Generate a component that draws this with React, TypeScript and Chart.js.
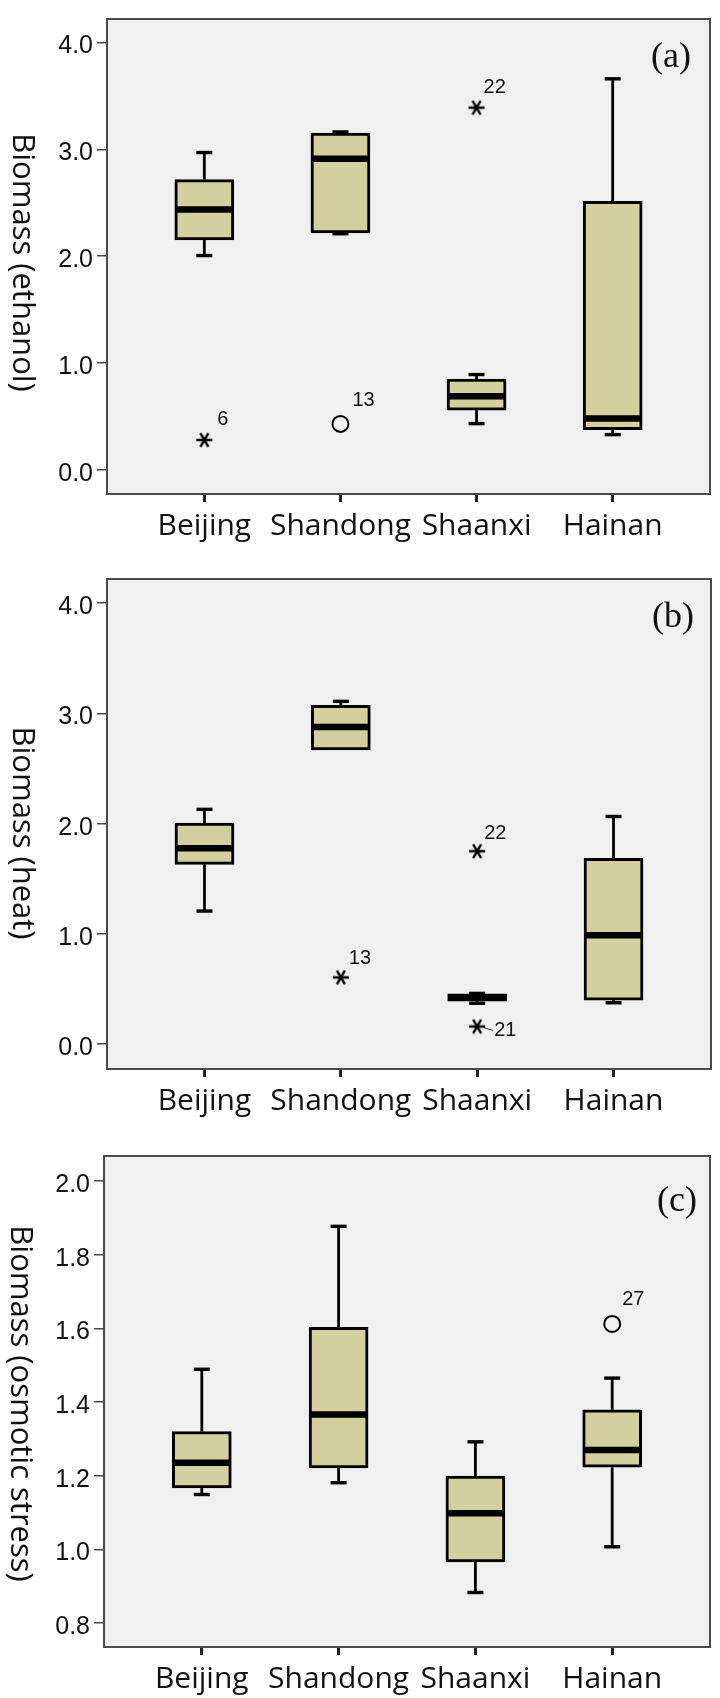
import React, { useEffect, useRef } from 'react';
import { Chart, registerables } from 'chart.js';

Chart.register(...registerables);

// ---------- shared data ----------
const categories = ['Beijing', 'Shandong', 'Shaanxi', 'Hainan'];
const categoryPositions = [0, 1, 2, 3];
const xRange = [-0.715, 3.715];

// ---------- (a) ethanol ----------
const ethanolWhiskerLow = [2.006, 2.21, 0.433, 0.33];
const ethanolQ1 = [2.152, 2.217, 0.559, 0.375];
const ethanolMedian = [2.436, 2.911, 0.688, 0.481];
const ethanolQ3 = [2.717, 3.153, 0.85, 2.514];
const ethanolWhiskerHigh = [2.97, 3.163, 0.892, 3.66];
const ethanolOutlierCategory = [0, 1, 2];
const ethanolOutlierValue = [0.28, 0.43, 3.39];
const ethanolOutlierMarker = ['star', 'circle', 'star'];
const ethanolOutlierLabel = ['6', '13', '22'];
const ethanolTicks = [0, 1, 2, 3, 4];
const ethanolRange = [-0.226, 4.22];

// ---------- (b) heat ----------
const heatWhiskerLow = [1.207, 2.67, 0.37, 0.375];
const heatQ1 = [1.631, 2.67, 0.39, 0.398];
const heatMedian = [1.777, 2.877, 0.42, 0.987];
const heatQ3 = [2.006, 3.074, 0.455, 1.686];
const heatWhiskerHigh = [2.13, 3.11, 0.46, 2.065];
const heatOutlierCategory = [1, 2, 2];
const heatOutlierValue = [0.605, 1.75, 0.16];
const heatOutlierMarker = ['star', 'star', 'star'];
const heatOutlierLabel = ['13', '22', '21'];
const heatTicks = [0, 1, 2, 3, 4];
const heatRange = [-0.226, 4.22];

// ---------- (c) osmotic stress ----------
const osmoticWhiskerLow = [1.149, 1.181, 0.883, 1.007];
const osmoticQ1 = [1.167, 1.221, 0.966, 1.223];
const osmoticMedian = [1.235, 1.366, 1.098, 1.27];
const osmoticQ3 = [1.32, 1.603, 1.199, 1.379];
const osmoticWhiskerHigh = [1.489, 1.877, 1.292, 1.465];
const osmoticOutlierCategory = [3];
const osmoticOutlierValue = [1.612];
const osmoticOutlierMarker = ['circle'];
const osmoticOutlierLabel = ['27'];
const osmoticTicks = [0.8, 1.0, 1.2, 1.4, 1.6, 1.8, 2.0];
const osmoticRange = [0.735, 2.068];

// ---------- styles ----------
const BOX_FILL = '#D4CF9E';
const PLOT_BG = '#F0F0F0';
const FRAME = '#4a4a4a';
const SANS = '"Open Sans", "Noto Sans", sans-serif';
const TICK_FONT = '"Liberation Sans", Arial, sans-serif';

type Panel = {
  key: string;
  letter: string;
  title: string;
  low: number[]; q1: number[]; median: number[]; q3: number[]; high: number[];
  outCat: number[]; outVal: number[]; outMarker: string[]; outLabel: string[];
  ticks: number[]; range: number[];
  // layout / style
  top: number; height: number; padTop: number; padRight: number;
  yAxisWidth: number; xAxisHeight: number;
  titleX: number; titleDy: number;
  letterDx: number; letterDy: number;
  labelOffsets: number[][];
  leader: boolean[];
};

const panels: Panel[] = [
  {
    key: 'a', letter: '(a)', title: 'Biomass (ethanol)',
    low: ethanolWhiskerLow, q1: ethanolQ1, median: ethanolMedian, q3: ethanolQ3, high: ethanolWhiskerHigh,
    outCat: ethanolOutlierCategory, outVal: ethanolOutlierValue, outMarker: ethanolOutlierMarker, outLabel: ethanolOutlierLabel,
    ticks: ethanolTicks, range: ethanolRange,
    top: 0, height: 560, padTop: 3.5, padRight: 8, yAxisWidth: 107, xAxisHeight: 66,
    titleX: 22, titleDy: 6, letterDx: -39, letterDy: 39,
    labelOffsets: [[13, -20], [12, -23], [7, -20]],
    leader: [false, false, false],
  },
  {
    key: 'b', letter: '(b)', title: 'Biomass (heat)',
    low: heatWhiskerLow, q1: heatQ1, median: heatMedian, q3: heatQ3, high: heatWhiskerHigh,
    outCat: heatOutlierCategory, outVal: heatOutlierValue, outMarker: heatOutlierMarker, outLabel: heatOutlierLabel,
    ticks: heatTicks, range: heatRange,
    top: 560, height: 570, padTop: 18, padRight: 8, yAxisWidth: 107, xAxisHeight: 61,
    titleX: 22, titleDy: 9, letterDx: -38, letterDy: 39,
    labelOffsets: [[8, -19], [7, -18], [17, 4]],
    leader: [false, false, true],
  },
  {
    key: 'c', letter: '(c)', title: 'Biomass (osmotic stress)',
    low: osmoticWhiskerLow, q1: osmoticQ1, median: osmoticMedian, q3: osmoticQ3, high: osmoticWhiskerHigh,
    outCat: osmoticOutlierCategory, outVal: osmoticOutlierValue, outMarker: osmoticOutlierMarker, outLabel: osmoticOutlierLabel,
    ticks: osmoticTicks, range: osmoticRange,
    top: 1130, height: 568, padTop: 26, padRight: 9, yAxisWidth: 104, xAxisHeight: 51,
    titleX: 20, titleDy: 2, letterDx: -33, letterDy: 46,
    labelOffsets: [[10, -24]],
    leader: [false],
  },
];

function makeStar(size: number, lw: number): HTMLCanvasElement {
  const c = document.createElement('canvas');
  c.width = size; c.height = size;
  const g = c.getContext('2d')!;
  g.strokeStyle = '#000';
  g.lineWidth = lw;
  const m = size / 2;
  const r = size / 2 - 1;
  const angles = [0, Math.PI / 3, (2 * Math.PI) / 3];
  g.beginPath();
  for (const a of angles) {
    g.moveTo(m - r * Math.cos(a), m - r * Math.sin(a));
    g.lineTo(m + r * Math.cos(a), m + r * Math.sin(a));
  }
  g.stroke();
  return c;
}

const BOX_WIDTH = 59;

function extrasPlugin(p: Panel) {
  return {
    id: 'boxExtras',
    beforeDraw(chart: any) {
      const { ctx, chartArea: a } = chart;
      ctx.save();
      ctx.fillStyle = PLOT_BG;
      ctx.fillRect(a.left, a.top, a.right - a.left, a.bottom - a.top);
      ctx.restore();
    },
    beforeDatasetsDraw(chart: any) {
      const { ctx } = chart;
      const xs = chart.scales.x, ys = chart.scales.y;
      ctx.save();
      ctx.strokeStyle = '#000';
      categoryPositions.forEach((c, i) => {
        const x = xs.getPixelForValue(c);
        const pairs = [[p.q3[i], p.high[i]], [p.q1[i], p.low[i]]];
        for (const [from, to] of pairs) {
          if (Math.abs(to - from) < 1e-9) continue;
          const y1 = ys.getPixelForValue(from);
          const y2 = ys.getPixelForValue(to);
          ctx.lineWidth = 2.8;
          ctx.beginPath(); ctx.moveTo(x, y1); ctx.lineTo(x, y2); ctx.stroke();
          ctx.lineWidth = 3.4;
          ctx.beginPath(); ctx.moveTo(x - 8, y2); ctx.lineTo(x + 8, y2); ctx.stroke();
        }
      });
      ctx.restore();
    },
    afterDatasetsDraw(chart: any) {
      const { ctx } = chart;
      const xs = chart.scales.x, ys = chart.scales.y;
      ctx.save();
      ctx.strokeStyle = '#000';
      ctx.lineWidth = 6.5;
      categoryPositions.forEach((c, i) => {
        const x = xs.getPixelForValue(c);
        const y = ys.getPixelForValue(p.median[i]);
        ctx.beginPath(); ctx.moveTo(x - BOX_WIDTH / 2 + 1, y); ctx.lineTo(x + BOX_WIDTH / 2 - 1, y); ctx.stroke();
      });
      // outlier labels
      ctx.fillStyle = '#111';
      ctx.font = '20px "Liberation Sans", Arial, sans-serif';
      ctx.textAlign = 'left';
      ctx.textBaseline = 'middle';
      p.outLabel.forEach((lab, k) => {
        const x = xs.getPixelForValue(p.outCat[k]);
        const y = ys.getPixelForValue(p.outVal[k]);
        const [dx, dy] = p.labelOffsets[k];
        ctx.fillText(lab, x + dx, y + dy);
        if (p.leader[k]) {
          ctx.lineWidth = 1;
          ctx.strokeStyle = '#333';
          ctx.beginPath(); ctx.moveTo(x + 6, y + 1); ctx.lineTo(x + dx - 1, y + dy); ctx.stroke();
        }
      });
      ctx.restore();
    },
    afterDraw(chart: any) {
      const { ctx, chartArea: a } = chart;
      ctx.save();
      ctx.strokeStyle = FRAME;
      ctx.lineWidth = 2;
      ctx.strokeRect(a.left, a.top, a.right - a.left, a.bottom - a.top);
      // panel letter
      ctx.fillStyle = '#111';
      ctx.font = '36px "Liberation Serif", "Times New Roman", serif';
      ctx.textAlign = 'center';
      ctx.textBaseline = 'middle';
      ctx.fillText(p.letter, a.right + p.letterDx, a.top + p.letterDy);
      // y title (reads top to bottom)
      ctx.font = '31px ' + SANS;
      ctx.translate(p.titleX, (a.top + a.bottom) / 2 + p.titleDy);
      ctx.rotate(Math.PI / 2);
      ctx.fillText(p.title, 0, 0);
      ctx.restore();
    },
  };
}

function buildConfig(p: Panel): any {
  const starImg = makeStar(18, 2.3);
  const stars = p.outCat
    .map((c, k) => ({ x: c, y: p.outVal[k], m: p.outMarker[k] }))
    .filter((d) => d.m === 'star')
    .map((d) => ({ x: d.x, y: d.y }));
  const circles = p.outCat
    .map((c, k) => ({ x: c, y: p.outVal[k], m: p.outMarker[k] }))
    .filter((d) => d.m === 'circle')
    .map((d) => ({ x: d.x, y: d.y }));
  return {
    type: 'bar',
    data: {
      datasets: [
        {
          type: 'bar',
          data: categoryPositions.map((c, i) => ({ x: c, y: [p.q1[i], p.q3[i]] })),
          backgroundColor: BOX_FILL,
          borderColor: '#000',
          borderWidth: 3,
          borderSkipped: false,
          barThickness: BOX_WIDTH,
        },
        {
          type: 'scatter',
          data: stars,
          pointStyle: starImg,
          pointRadius: 8,
          showLine: false,
        },
        {
          type: 'scatter',
          data: circles,
          pointStyle: 'circle',
          pointRadius: 8,
          borderWidth: 2,
          borderColor: '#000',
          backgroundColor: 'rgba(0,0,0,0)',
          showLine: false,
        },
      ],
    },
    options: {
      responsive: false,
      animation: false,
      events: [],
      layout: { padding: { left: 0, right: p.padRight, top: p.padTop, bottom: 0 } },
      plugins: { legend: { display: false }, tooltip: { enabled: false } },
      scales: {
        x: {
          type: 'linear',
          min: xRange[0],
          max: xRange[1],
          offset: false,
          afterBuildTicks: (s: any) => { s.ticks = categoryPositions.map((v) => ({ value: v })); },
          afterFit: (s: any) => { s.height = p.xAxisHeight; },
          ticks: {
            callback: (v: any) => categories[Math.round(Number(v))],
            font: { family: SANS, size: 30 },
            color: '#111',
            padding: 6,
            maxRotation: 0,
            autoSkip: false,
          },
          grid: { drawOnChartArea: false, drawTicks: true, tickLength: 8, tickWidth: 3, color: '#222', offset: false },
          border: { display: true, color: FRAME, width: 2 },
        },
        y: {
          type: 'linear',
          min: p.range[0],
          max: p.range[1],
          beginAtZero: false,
          afterBuildTicks: (s: any) => { s.ticks = p.ticks.map((v) => ({ value: v })); },
          afterFit: (s: any) => { s.width = p.yAxisWidth; },
          ticks: {
            callback: (v: any) => Number(v).toFixed(1),
            font: { family: TICK_FONT, size: 25 },
            color: '#111',
            padding: 4,
            labelOffset: 4,
          },
          grid: { drawOnChartArea: false, drawTicks: true, tickLength: 10, lineWidth: 1.5, color: FRAME },
          border: { display: true, color: FRAME, width: 2 },
        },
      },
    },
    plugins: [extrasPlugin(p)],
  };
}

function BoxPanel({ panel }: { panel: Panel }) {
  const ref = useRef<HTMLCanvasElement>(null);
  useEffect(() => {
    const chart = new Chart(ref.current as HTMLCanvasElement, buildConfig(panel));
    return () => chart.destroy();
  }, [panel]);
  return (
    <canvas
      ref={ref}
      width={720}
      height={panel.height}
      style={{ position: 'absolute', left: 0, top: panel.top, width: 720, height: panel.height }}
    />
  );
}

export default function App() {
  return (
    <div style={{ position: 'absolute', left: 0, top: 0, width: 720, height: 1698, background: '#fff', overflow: 'hidden' }}>
      {panels.map((p) => (
        <BoxPanel key={p.key} panel={p} />
      ))}
    </div>
  );
}
